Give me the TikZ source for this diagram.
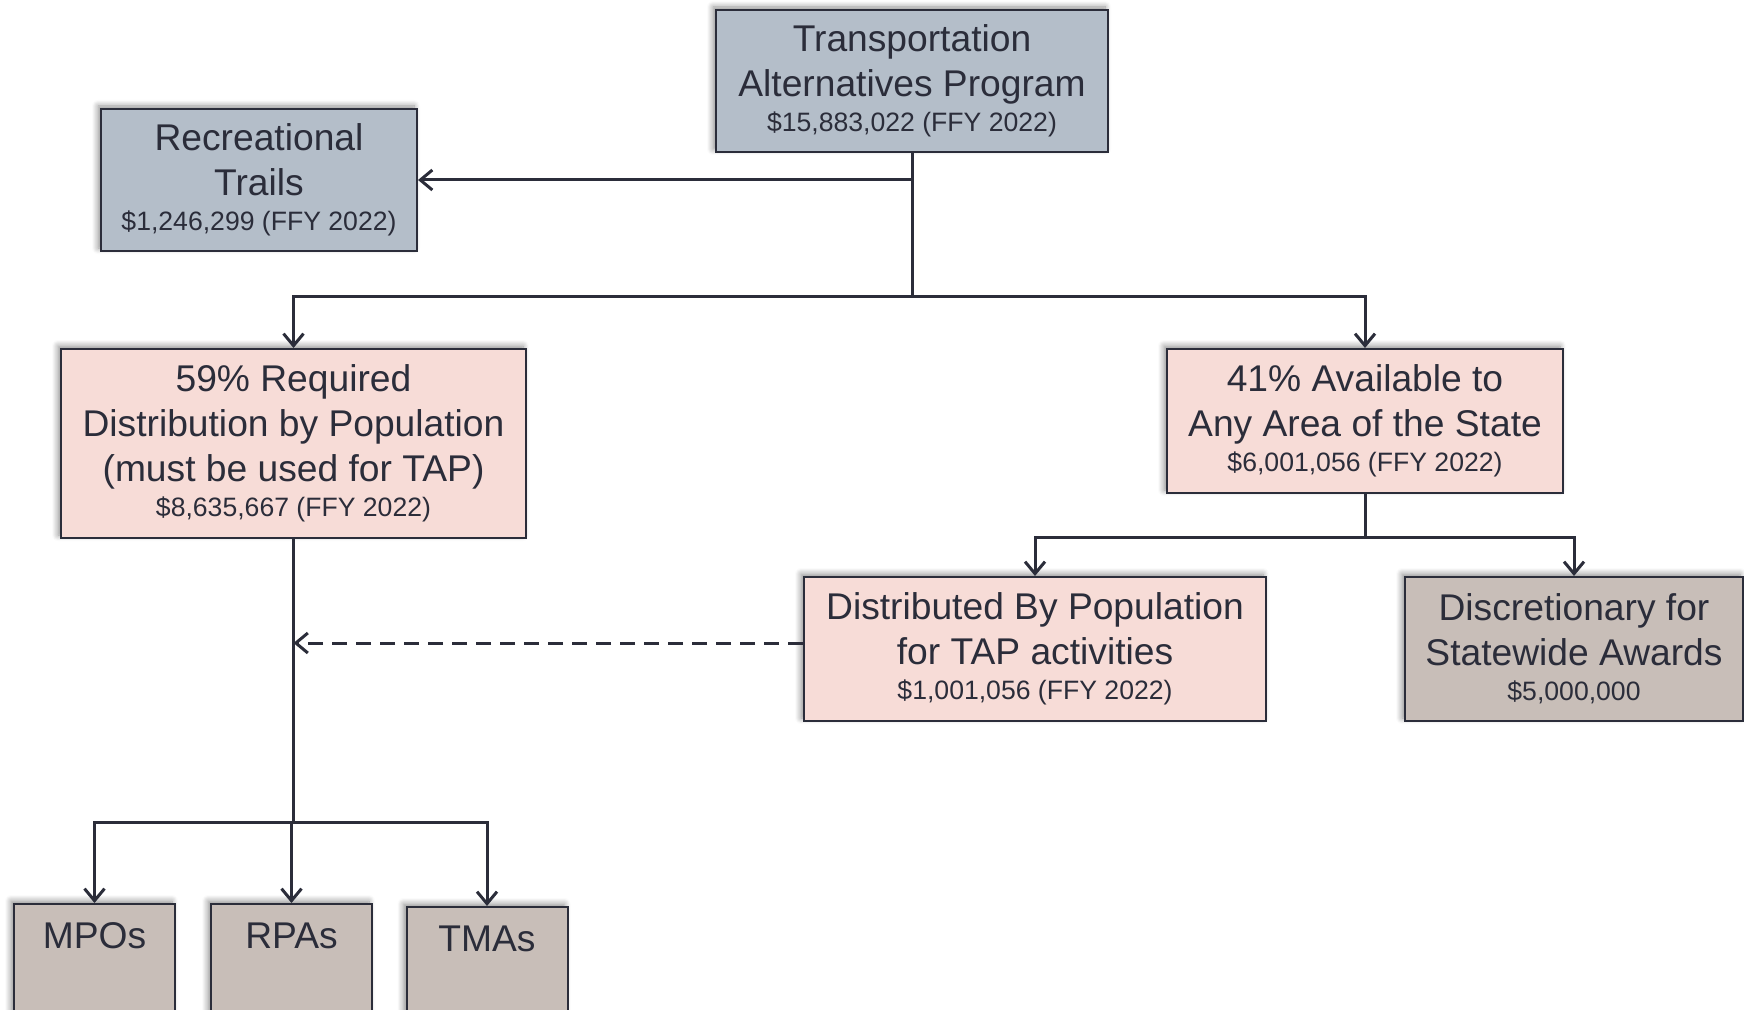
\documentclass[tikz,border=0pt]{standalone}
\usepackage{fontspec}
\setmainfont{Liberation Sans}
\usetikzlibrary{arrows.meta,shadows.blur}
\definecolor{inkdark}{HTML}{2B2D3A}
\definecolor{slatebox}{HTML}{B4BEC9}
\definecolor{pinkbox}{HTML}{F7DCD7}
\definecolor{taupebox}{HTML}{C8BEB8}
\newcommand{\headfont}{\fontsize{18.6}{22.3}\selectfont}
\newcommand{\sumfont}{\fontsize{13.3}{16}\selectfont}

\tikzset{
  fundbox/.style={draw=inkdark, line width=1pt, text=inkdark, align=center,
    font=\headfont, inner sep=0pt,
    blur shadow={shadow xshift=-1.5pt, shadow yshift=1.5pt,
      shadow blur steps=8, shadow blur radius=3pt, shadow opacity=45}},
  slate/.style={fundbox, fill=slatebox},
  pink/.style={fundbox, fill=pinkbox},
  taupe/.style={fundbox, fill=taupebox},
  leaf/.style={taupe, anchor=north, minimum width=80.5pt, inner ysep=9pt,
    text height=13.3pt, text depth=60pt},
  link/.style={draw=inkdark, line width=1.5pt},
  arr/.style={link, -{Straight Barb[length=6pt,width=10pt]}},
}

\begin{document}
\begin{tikzpicture}[x=0.5pt, y=-0.5pt]
\useasboundingbox (0,0) rectangle (1744,1010);
\clip (0,0) rectangle (1744,1010);

% funding boxes
\node[slate, minimum width=196pt, minimum height=71pt] (tap) at (912,81)
  {Transportation\\Alternatives Program\\[-4.5pt]{\sumfont \$15,883,022 (FFY 2022)}};
\node[slate, minimum width=158pt, minimum height=71pt] (rec) at (259,180)
  {Recreational\\Trails\\[-4.5pt]{\sumfont \$1,246,299 (FFY 2022)}};
\node[pink, minimum width=232.5pt, minimum height=94.5pt] (req) at (293.5,443.5)
  {59\% Required\\Distribution by Population\\(must be used for TAP)\\[-4.5pt]{\sumfont \$8,635,667 (FFY 2022)}};
\node[pink, minimum width=198pt, minimum height=72pt] (any) at (1365,421)
  {41\% Available to\\Any Area of the State\\[-4.5pt]{\sumfont \$6,001,056 (FFY 2022)}};
\node[pink, minimum width=231pt, minimum height=72pt] (dist) at (1035,649)
  {Distributed By Population\\for TAP activities\\[-4.5pt]{\sumfont \$1,001,056 (FFY 2022)}};
\node[taupe, minimum width=169pt, minimum height=72pt] (disc) at (1574,649)
  {Discretionary for\\Statewide Awards\\[-4.5pt]{\sumfont \$5,000,000}};

% regional recipients
\node[leaf] (mpo) at (94.5,903) {MPOs};
\node[leaf] (rpa) at (291.5,903) {RPAs};
\node[leaf] (tma) at (487,906) {TMAs};

% connectors
\coordinate (tapfork) at ([yshift=-72pt]tap.south);
\draw[link] (tap.south) -- (tapfork);
\draw[arr] (tap.south |- rec.east) -- (rec.east);
\draw[arr] (tapfork) -| (req.north);
\draw[arr] (tapfork) -| (any.north);

\coordinate (anyfork) at ([yshift=-21.5pt]any.south);
\draw[link] (any.south) -- (anyfork);
\draw[arr] (anyfork) -| (dist.north);
\draw[arr] (anyfork) -| (disc.north);

\coordinate (reqfork) at ([yshift=-141.5pt]req.south);
\draw[link] (req.south) -- (reqfork);
\draw[arr] (reqfork) -| (mpo.north);
\draw[arr] (reqfork) -| (rpa.north);
\draw[arr] (reqfork) -| (tma.north);

\draw[arr, dash pattern=on 7.5pt off 4.5pt] ([yshift=3pt]dist.west) -- ([yshift=3pt]dist.west -| req.south);
\end{tikzpicture}
\end{document}
